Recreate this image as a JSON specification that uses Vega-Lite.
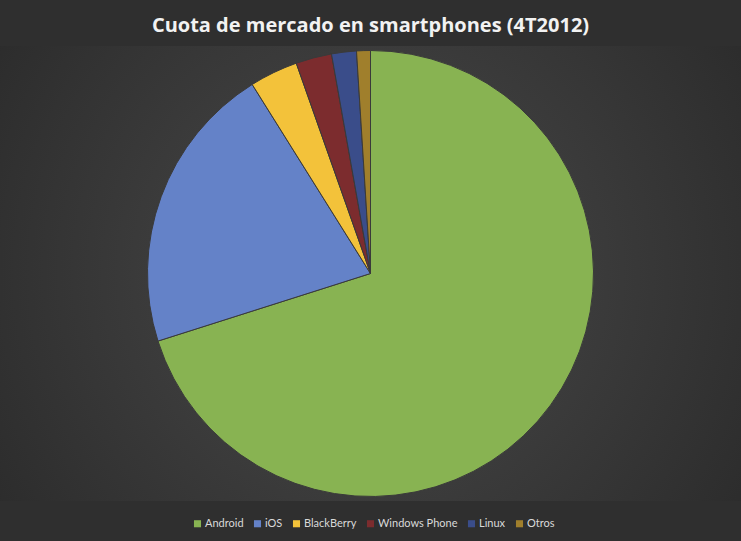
{
  "$schema": "https://vega.github.io/schema/vega-lite/v6.json",
  "autosize": {"type": "fit", "contains": "padding"},
  "width": 741,
  "height": 541,
  "padding": {"top": 16, "bottom": 40, "left": 0, "right": 0},
  "background": "#2f2f2f",
  "title": {
    "text": "Cuota de mercado en smartphones (4T2012)",
    "font": "Open Sans",
    "fontSize": 20,
    "fontWeight": "bold",
    "color": "#f2f2f2",
    "anchor": "middle",
    "offset": 10
  },
  "layer": [
    {
      "data": {"values": [{"fondo": 1}]},
      "mark": {
        "type": "rect",
        "fill": {
          "gradient": "radial",
          "x1": 0.5, "y1": 0.5, "r1": 0,
          "x2": 0.5, "y2": 0.5, "r2": 0.8,
          "stops": [
            {"offset": 0, "color": "#4a4a4a"},
            {"offset": 1, "color": "#222222"}
          ]
        }
      },
      "encoding": {}
    },
    {
      "data": {
        "values": [
          {"so": "Android", "cuota": 70.1, "orden": 1},
          {"so": "iOS", "cuota": 21.0, "orden": 2},
          {"so": "BlackBerry", "cuota": 3.5, "orden": 3},
          {"so": "Windows Phone", "cuota": 2.6, "orden": 4},
          {"so": "Linux", "cuota": 1.8, "orden": 5},
          {"so": "Otros", "cuota": 1.0, "orden": 6}
        ]
      },
      "mark": {"type": "arc", "outerRadius": 223, "stroke": "#3a3a3a", "strokeWidth": 1},
      "encoding": {
        "theta": {"field": "cuota", "type": "quantitative", "stack": true},
        "order": {"field": "orden", "type": "quantitative"},
        "color": {
          "field": "so",
          "type": "nominal",
          "sort": ["Android", "iOS", "BlackBerry", "Windows Phone", "Linux", "Otros"],
          "scale": {
            "domain": ["Android", "iOS", "BlackBerry", "Windows Phone", "Linux", "Otros"],
            "range": ["#88b352", "#6482c8", "#f3c23a", "#7c2c2e", "#3a4d8a", "#a07f2c"]
          },
          "legend": {
            "orient": "none",
            "legendX": 192,
            "legendY": 472,
            "direction": "horizontal",
            "title": null,
            "symbolType": "square",
            "symbolSize": 50,
            "symbolStrokeWidth": 0,
            "labelColor": "#d9d9d9",
            "labelFont": "Lato",
            "labelFontSize": 11,
            "labelOffset": 2,
            "columnPadding": 8
          }
        }
      }
    }
  ],
  "config": {"view": {"stroke": null}}
}
